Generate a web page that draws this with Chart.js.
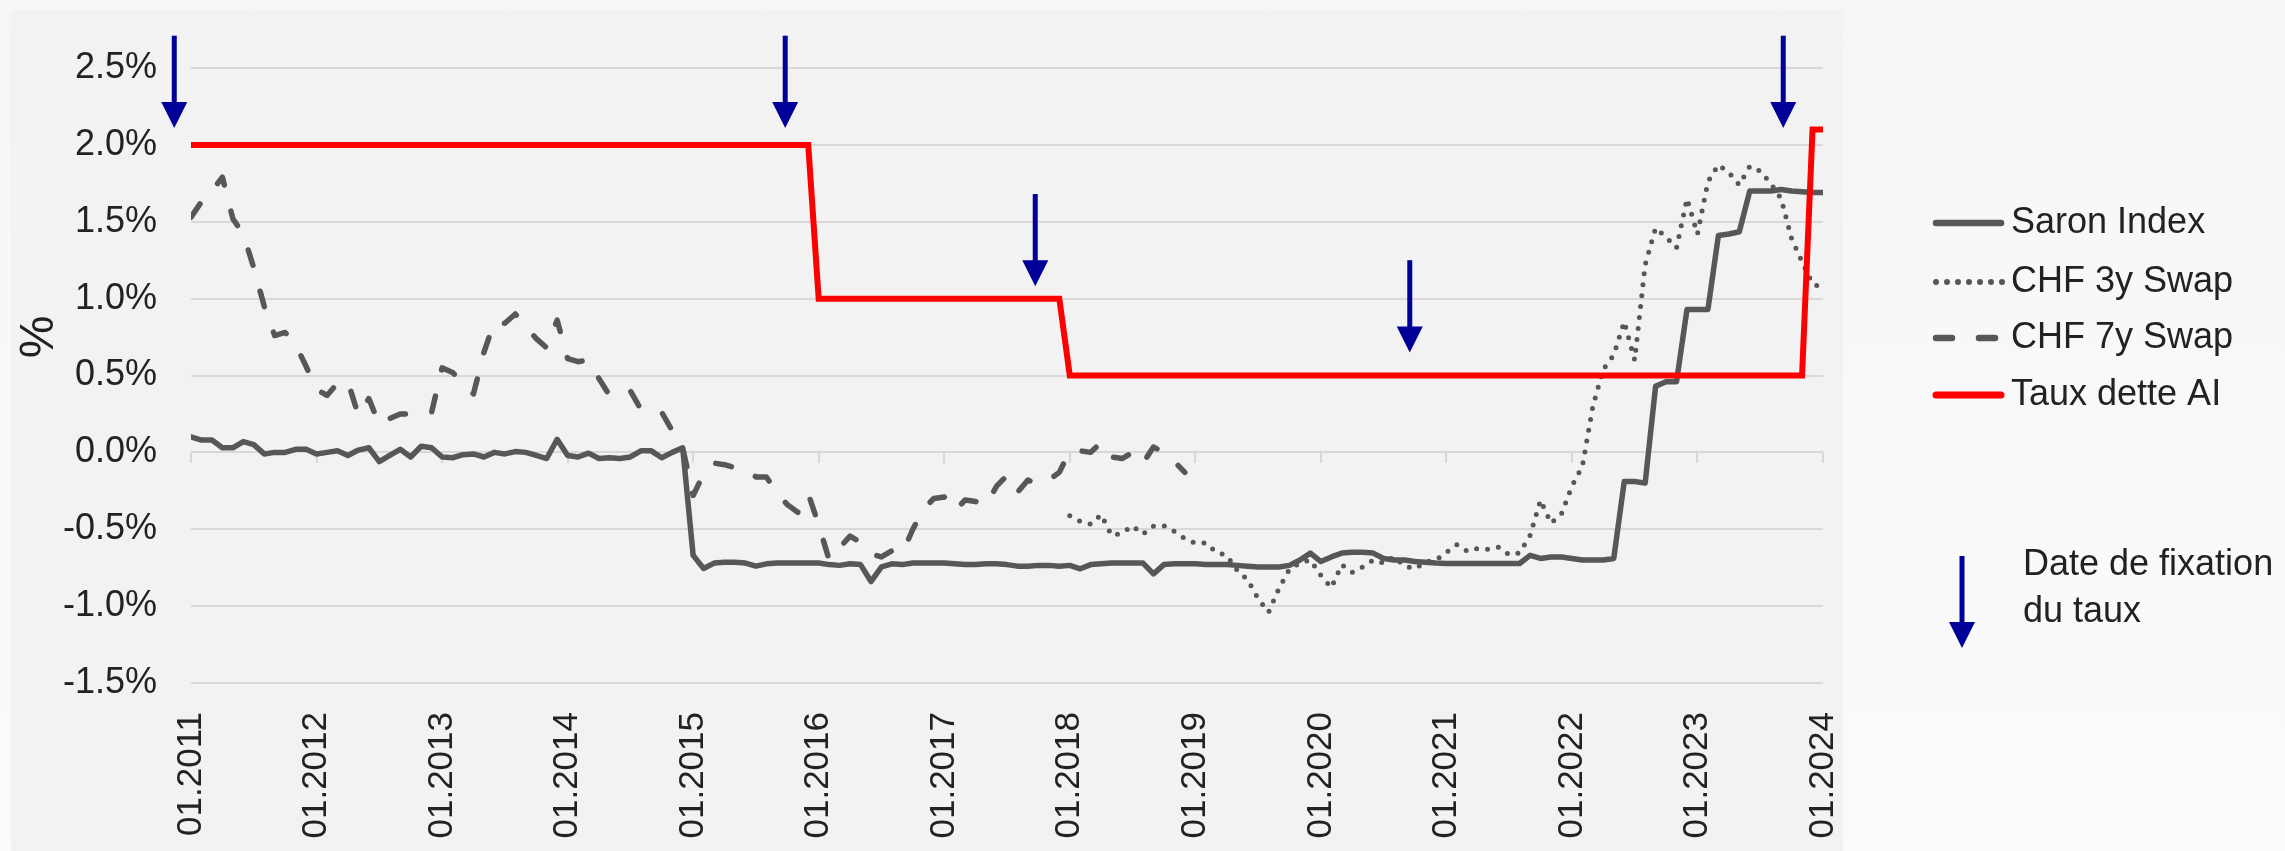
<!DOCTYPE html>
<html>
<head>
<meta charset="utf-8">
<title>Saron, swaps et taux dette AI</title>
<script src="https://cdn.jsdelivr.net/npm/chart.js@4/dist/chart.umd.min.js"></script>
<style>
  html, body { margin: 0; padding: 0; }
  body { background: linear-gradient(to bottom, #f6f6f6, #fbfbfb); }
  #wrap { width: 2285px; height: 851px; }
</style>
</head>
<body>
<div id="wrap"><canvas id="rateChart" width="2285" height="851"></canvas></div>
<script>
// Monthly values, x = months since 01.2011
const yearLabels = ['01.2011', '01.2012', '01.2013', '01.2014', '01.2015', '01.2016', '01.2017',
  '01.2018', '01.2019', '01.2020', '01.2021', '01.2022', '01.2023', '01.2024'];

const saron = [
  0.10, 0.08, 0.08, 0.03, 0.03, 0.07, 0.05, -0.01, 0.00, 0.00,
  0.02, 0.02, -0.01, 0.00, 0.01, -0.02, 0.015, 0.03, -0.06, -0.02,
  0.02, -0.03, 0.04, 0.03, -0.03, -0.035, -0.015, -0.01, -0.03, 0.00,
  -0.01, 0.005, 0.00, -0.02, -0.04, 0.085, -0.02, -0.03, -0.005, -0.04,
  -0.035, -0.04, -0.03, 0.01, 0.01, -0.035, 0.00, 0.03, -0.67, -0.755,
  -0.72, -0.715, -0.715, -0.72, -0.74, -0.725, -0.72, -0.72, -0.72, -0.72,
  -0.72, -0.73, -0.735, -0.725, -0.73, -0.84, -0.745, -0.725, -0.73, -0.72,
  -0.72, -0.72, -0.72, -0.725, -0.73, -0.73, -0.725, -0.725, -0.73, -0.74,
  -0.74, -0.735, -0.735, -0.74, -0.735, -0.757, -0.73, -0.725, -0.72, -0.72,
  -0.72, -0.72, -0.79, -0.73, -0.725, -0.725, -0.725, -0.73, -0.73, -0.73,
  -0.735, -0.74, -0.745, -0.745, -0.745, -0.735, -0.70, -0.655, -0.71, -0.68,
  -0.655, -0.65, -0.65, -0.655, -0.69, -0.70, -0.70, -0.71, -0.715, -0.72,
  -0.723, -0.723, -0.723, -0.723, -0.723, -0.723, -0.723, -0.723, -0.67, -0.69,
  -0.68, -0.68, -0.69, -0.70, -0.70, -0.70, -0.69, -0.19, -0.19, -0.20,
  0.43, 0.46, 0.46, 0.93, 0.93, 0.93, 1.41, 1.42, 1.435, 1.70,
  1.70, 1.70, 1.71, 1.70, 1.695, 1.69, 1.69
];

// CHF 3y swap starts 01.2018 (month 84)
const swap3yStart = 84;
const swap3y = [
  -0.413, -0.448, -0.467, -0.405, -0.54, -0.526, -0.478, -0.532, -0.48, -0.478,
  -0.515, -0.56, -0.59, -0.589, -0.65, -0.67, -0.766, -0.83, -0.95, -1.04,
  -0.885, -0.76, -0.72, -0.70, -0.80, -0.88, -0.73, -0.78, -0.745, -0.70,
  -0.72, -0.68, -0.74, -0.757, -0.712, -0.70, -0.65, -0.60, -0.643, -0.625,
  -0.63, -0.617, -0.665, -0.654, -0.54, -0.31, -0.46, -0.40, -0.22, -0.09,
  0.30, 0.54, 0.634, 0.85, 0.60, 1.22, 1.46, 1.40, 1.33, 1.65,
  1.42, 1.76, 1.87, 1.82, 1.74, 1.86, 1.83, 1.75, 1.65, 1.39,
  1.24, 1.095, 1.07
];

// CHF 7y swap, 01.2011 to 12.2018
const swap7y = [
  1.53, 1.63, 1.70, 1.79, 1.52, 1.42, 1.20, 0.95, 0.76, 0.78,
  0.70, 0.56, 0.41, 0.37, 0.45, 0.46, 0.24, 0.35, 0.18, 0.22,
  0.25, 0.25, 0.25, 0.26, 0.55, 0.52, 0.45, 0.38, 0.65, 0.85,
  0.84, 0.90, 0.82, 0.74, 0.68, 0.86, 0.61, 0.59, 0.60, 0.48,
  0.37, 0.38, 0.40, 0.28, 0.27, 0.26, 0.14, 0.03, -0.28, -0.14,
  -0.07, -0.08, -0.10, -0.105, -0.16, -0.16, -0.26, -0.34, -0.39, -0.27,
  -0.47, -0.70, -0.62, -0.545, -0.585, -0.66, -0.68, -0.64, -0.655, -0.50,
  -0.37, -0.30, -0.29, -0.38, -0.31, -0.32, -0.345, -0.22, -0.15, -0.26,
  -0.18, -0.21, -0.18, -0.13, 0.01, 0.01, 0.00, 0.065, -0.03, -0.04,
  0.00, -0.07, 0.035, 0.00, -0.06, -0.13
];

// Taux dette AI (step changes)
const aiMonths = [0, 59, 60, 83, 84, 154, 155, 156];
const aiRate = [2.0, 2.0, 1.0, 1.0, 0.5, 0.5, 2.1, 2.1];

// Date de fixation du taux: arrow position (month) and its top / tip value (%)
const fixMonths = [-1.6, 56.8, 80.7, 116.5, 152.2];
const fixTop = [2.71, 2.71, 1.68, 1.25, 2.71];
const fixTip = [2.11, 2.11, 1.08, 0.65, 2.11];

const gridColor = '#ddd6d8';
const gray = '#575757';
const navy = '#000099';
const textColor = '#222222';
const fontFamily = '"Liberation Sans", Arial, sans-serif';

Chart.defaults.font.family = fontFamily;
Chart.defaults.color = textColor;

const toPoints = (values, start) => values.map((v, i) => ({ x: start + i, y: v }));

function drawArrow(ctx, x, yTop, yTip) {
  const headLen = 26, headHalf = 13;
  ctx.fillStyle = navy;
  ctx.fillRect(x - 2.5, yTop, 5, yTip - headLen - yTop + 1);
  ctx.beginPath();
  ctx.moveTo(x - headHalf, yTip - headLen);
  ctx.lineTo(x + headHalf, yTip - headLen);
  ctx.lineTo(x, yTip);
  ctx.closePath();
  ctx.fill();
}

// grey panel behind the plot
const panelPlugin = {
  id: 'panel',
  beforeDraw(chart) {
    const ctx = chart.ctx;
    ctx.save();
    ctx.fillStyle = '#f2f2f2';
    ctx.fillRect(11, 10, 1832, 841);
    ctx.restore();
  }
};

// fixing date arrows, placed through the chart scales
const arrowPlugin = {
  id: 'fixArrows',
  afterDatasetsDraw(chart) {
    const { ctx, scales: { x, y } } = chart;
    ctx.save();
    fixMonths.forEach((m, i) => {
      drawArrow(ctx, x.getPixelForValue(m), y.getPixelForValue(fixTop[i]), y.getPixelForValue(fixTip[i]));
    });
    ctx.restore();
  }
};

// axis title and legend on the right
const sidePlugin = {
  id: 'side',
  afterDraw(chart) {
    const ctx = chart.ctx;
    ctx.save();
    ctx.fillStyle = textColor;
    ctx.textBaseline = 'middle';

    ctx.save();
    ctx.translate(40, 337);
    ctx.rotate(-Math.PI / 2);
    ctx.textAlign = 'center';
    ctx.font = '48px ' + fontFamily;
    ctx.fillText('%', 0, 0);
    ctx.restore();

    const rows = [223, 282, 338, 395];
    ctx.font = '36px ' + fontFamily;
    chart.data.datasets.forEach((ds, i) => {
      const yy = rows[i];
      ctx.save();
      ctx.strokeStyle = ds.borderColor;
      ctx.lineWidth = ds.borderWidth + 1;
      ctx.lineCap = 'round';
      ctx.setLineDash(ds.borderDash || []);
      ctx.beginPath();
      ctx.moveTo(1936, yy);
      ctx.lineTo(ds.borderDash ? 2003 : 2001, yy);
      ctx.stroke();
      ctx.restore();
      ctx.textAlign = 'left';
      ctx.fillText(ds.label, 2011, yy);
    });

    drawArrow(ctx, 1962, 556, 648);
    ctx.fillStyle = textColor;
    ctx.fillText('Date de fixation', 2023, 565);
    ctx.fillText('du taux', 2023, 612);
    ctx.restore();
  }
};

new Chart(document.getElementById('rateChart'), {
  type: 'line',
  data: {
    datasets: [
      {
        label: 'Saron Index',
        data: toPoints(saron, 0),
        borderColor: gray,
        borderWidth: 5.5,
        borderCapStyle: 'round',
        borderJoinStyle: 'round',
        pointRadius: 0,
        order: 3
      },
      {
        label: 'CHF 3y Swap',
        data: toPoints(swap3y, swap3yStart),
        borderColor: gray,
        borderWidth: 5,
        borderDash: [0, 11],
        borderCapStyle: 'round',
        pointRadius: 0,
        order: 2
      },
      {
        label: 'CHF 7y Swap',
        data: toPoints(swap7y, 0),
        borderColor: gray,
        borderWidth: 5.5,
        borderDash: [16, 27],
        borderCapStyle: 'round',
        borderJoinStyle: 'round',
        pointRadius: 0,
        order: 1
      },
      {
        label: 'Taux dette AI',
        data: aiMonths.map((m, i) => ({ x: m, y: aiRate[i] })),
        borderColor: '#ff0000',
        borderWidth: 6,
        borderCapStyle: 'round',
        pointRadius: 0,
        order: 0
      }
    ]
  },
  options: {
    responsive: false,
    animation: false,
    events: [],
    layout: { padding: { left: 0, top: 68, right: 462, bottom: 0 } },
    plugins: {
      legend: { display: false },
      tooltip: { enabled: false }
    },
    scales: {
      x: {
        type: 'linear',
        min: 0,
        max: 156,
        grid: { drawOnChartArea: false, drawTicks: false },
        border: { display: false },
        ticks: {
          stepSize: 12,
          autoSkip: false,
          minRotation: 90,
          maxRotation: 90,
          padding: 29,
          color: textColor,
          font: { size: 35 },
          callback: v => yearLabels[Math.round(v / 12)]
        },
        afterFit(scale) { scale.height = 168; }
      },
      xTicks: {
        type: 'linear',
        axis: 'x',
        position: { y: 0 },
        min: 0,
        max: 156,
        grid: { drawOnChartArea: false, drawTicks: true, tickLength: 11, color: gridColor, lineWidth: 2 },
        border: { display: false },
        ticks: { display: false, stepSize: 12, autoSkip: false }
      },
      y: {
        min: -1.5,
        max: 2.5,
        grid: { color: gridColor, lineWidth: 2, drawTicks: false },
        border: { display: false },
        ticks: {
          stepSize: 0.5,
          padding: 34,
          color: textColor,
          font: { size: 36 },
          callback: v => v.toFixed(1) + '%'
        },
        afterFit(scale) { scale.width = 191; }
      }
    }
  },
  plugins: [panelPlugin, arrowPlugin, sidePlugin]
});
</script>
</body>
</html>
